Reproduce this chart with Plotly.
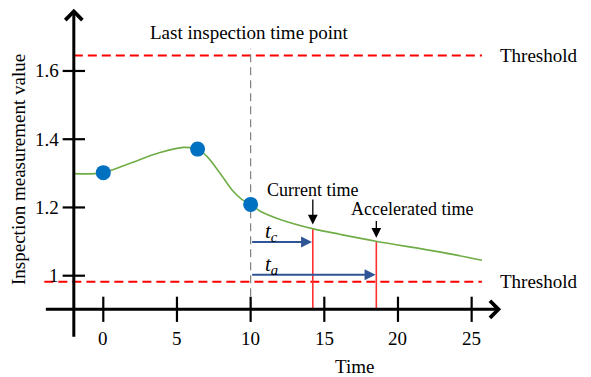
import plotly.graph_objects as go

# ---- data ----
curve_x = [-2.0, 0.0, 1.6, 3.85, 5.45, 6.4, 7.0, 7.9, 8.8, 9.4, 10.0, 10.65, 12.0, 14.2, 16.1, 18.5, 22.9, 25.7]
curve_y = [1.299, 1.302, 1.326, 1.361, 1.376, 1.371, 1.351, 1.302, 1.248, 1.224, 1.209, 1.189, 1.165, 1.138, 1.121, 1.101, 1.069, 1.045]
insp_x = [0.0, 6.4, 10.0]
insp_y = [1.302, 1.371, 1.209]
threshold_upper = 1.645
threshold_lower = 0.982
last_inspection = 10.0
current_time = 14.22
current_value = 1.138
accel_time = 18.53
accel_value = 1.101
x_ticks = [0, 5, 10, 15, 20, 25]
x_tick_labels = ["0", "5", "10", "15", "20", "25"]
y_ticks = [1.0, 1.2, 1.4, 1.6]
y_tick_labels = ["1", "1.2", "1.4", "1.6"]

# axis geometry (data units)
x_axis_y = 0.9015
y_axis_x = -2.0
x_axis_start, x_axis_end = -4.0, 27.0
y_axis_start, y_axis_end = 0.817, 1.782

FONT = "Liberation Serif, Times New Roman, serif"
fig = go.Figure()

# thresholds
fig.add_trace(go.Scatter(x=[y_axis_x, 25.7], y=[threshold_upper] * 2, mode="lines",
                         line=dict(color="#FF0000", width=2, dash="9px,5px"), hoverinfo="skip"))
fig.add_trace(go.Scatter(x=[x_axis_start, 25.7], y=[threshold_lower] * 2, mode="lines",
                         line=dict(color="#FF0000", width=2, dash="9px,5px"), hoverinfo="skip"))

# last inspection vertical dashed line
fig.add_trace(go.Scatter(x=[last_inspection] * 2, y=[x_axis_y, 1.665], mode="lines",
                         line=dict(color="#808080", width=1.2, dash="8px,5px"), hoverinfo="skip"))

# red vertical lines
fig.add_trace(go.Scatter(x=[current_time] * 2, y=[x_axis_y, current_value], mode="lines",
                         line=dict(color="#FF3030", width=1.6), hoverinfo="skip"))
fig.add_trace(go.Scatter(x=[accel_time] * 2, y=[x_axis_y, accel_value], mode="lines",
                         line=dict(color="#FF3030", width=1.6), hoverinfo="skip"))

# curve
fig.add_trace(go.Scatter(x=curve_x, y=curve_y, mode="lines",
                         line=dict(color="#70AD47", width=1.6, shape="spline", smoothing=1.0),
                         hoverinfo="skip"))
# inspection points
fig.add_trace(go.Scatter(x=insp_x, y=insp_y, mode="markers",
                         marker=dict(color="#0070C0", size=15, line=dict(width=0)), hoverinfo="skip"))

# tick marks
fig.add_trace(go.Scatter(x=x_ticks, y=[x_axis_y] * len(x_ticks), mode="markers",
                         marker=dict(symbol="line-ns", size=18, line=dict(color="black", width=2.2)),
                         hoverinfo="skip"))
fig.add_trace(go.Scatter(x=[y_axis_x] * len(y_ticks), y=y_ticks, mode="markers",
                         marker=dict(symbol="line-ew", size=16, line=dict(color="black", width=2.2)),
                         hoverinfo="skip"))

ann = []
# axes with arrows
ann.append(dict(x=x_axis_end, y=x_axis_y, ax=x_axis_start, ay=x_axis_y, xref="x", yref="y",
                axref="x", ayref="y", showarrow=True, arrowhead=4, arrowwidth=3, arrowsize=1.1,
                arrowcolor="black", text=""))
ann.append(dict(x=y_axis_x, y=y_axis_end, ax=y_axis_x, ay=y_axis_start, xref="x", yref="y",
                axref="x", ayref="y", showarrow=True, arrowhead=4, arrowwidth=3, arrowsize=1.1,
                arrowcolor="black", text=""))
# blue interval arrows
ann.append(dict(x=current_time - 0.05, y=1.099, ax=last_inspection, ay=1.099, xref="x", yref="y",
                axref="x", ayref="y", showarrow=True, arrowhead=2, arrowwidth=2, arrowsize=1.1,
                arrowcolor="#2F5597", text=""))
ann.append(dict(x=accel_time - 0.05, y=1.003, ax=last_inspection, ay=1.003, xref="x", yref="y",
                axref="x", ayref="y", showarrow=True, arrowhead=2, arrowwidth=2, arrowsize=1.1,
                arrowcolor="#2F5597", text=""))
# black pointer arrows
ann.append(dict(x=current_time, y=1.150, ax=current_time, ay=1.228, xref="x", yref="y",
                axref="x", ayref="y", showarrow=True, arrowhead=2, arrowwidth=1.3, arrowsize=1.5,
                arrowcolor="black", text=""))
ann.append(dict(x=accel_time, y=1.111, ax=accel_time, ay=1.165, xref="x", yref="y",
                axref="x", ayref="y", showarrow=True, arrowhead=2, arrowwidth=1.3, arrowsize=1.5,
                arrowcolor="black", text=""))

def txt(x, y, s, size=19, xanchor="center", textangle=0):
    return dict(x=x, y=y, xref="x", yref="y", text=s, showarrow=False, xanchor=xanchor,
                yanchor="middle", textangle=textangle,
                font=dict(family=FONT, size=size, color="black"))

ann.append(txt(9.955, 1.714, "Last inspection time point"))
ann.append(txt(14.21, 1.251, "Current time", size=18))
ann.append(txt(20.93, 1.1955, "Accelerated time", size=18))
ann.append(txt(26.8, threshold_upper, "Threshold", xanchor="left"))
ann.append(txt(26.8, threshold_lower, "Threshold", xanchor="left"))
ann.append(txt(11.43, 1.129, "<i>t<sub>c</sub></i>", size=21))
ann.append(txt(11.43, 1.031, "<i>t<sub>a</sub></i>", size=21))
ann.append(txt(17.08, 0.733, "Time"))
ann.append(txt(-5.79, 1.3127, "Inspection measurement value", textangle=-90))
for xv, lab in zip(x_ticks, x_tick_labels):
    ann.append(txt(xv, 0.816, lab))
for yv, lab in zip(y_ticks, y_tick_labels):
    ann.append(txt(-2.87, yv, lab, xanchor="right"))

fig.update_layout(
    width=591, height=377, margin=dict(l=0, r=0, t=0, b=0),
    paper_bgcolor="white", plot_bgcolor="white", showlegend=False,
    xaxis=dict(range=[-7.01, 33.10], visible=False, fixedrange=True),
    yaxis=dict(range=[0.7031, 1.808], visible=False, fixedrange=True),
    annotations=ann,
)
fig.write_html("out.html")
